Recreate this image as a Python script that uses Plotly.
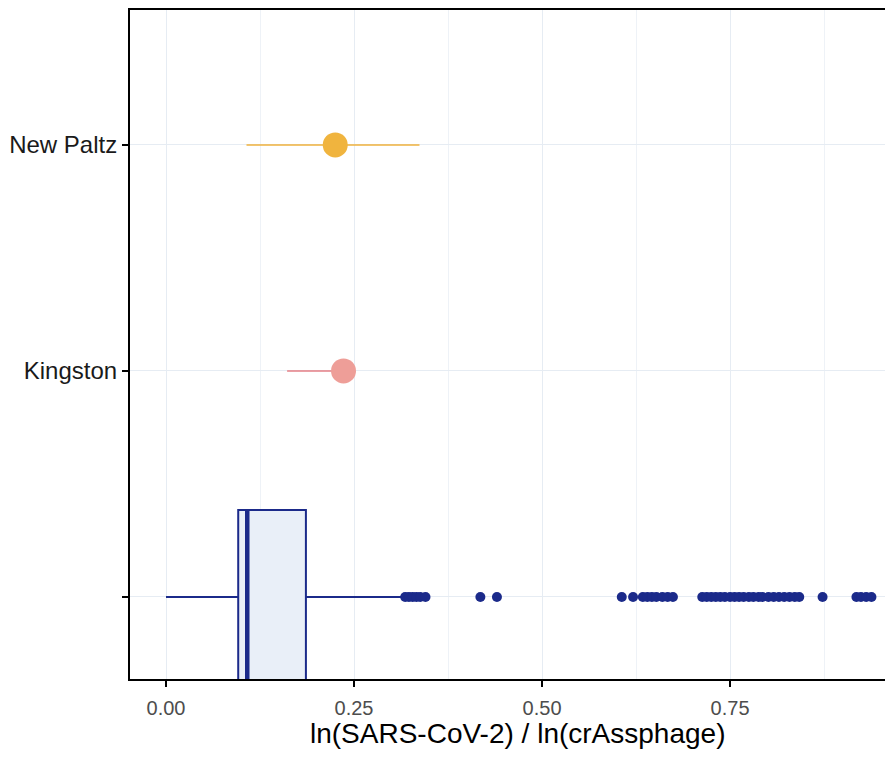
import plotly.graph_objects as go

# ---- data ----
site_labels = ["", "Kingston", "New Paltz"]
site_pos = [1, 2, 3]

# summary points with intervals
np_est, np_lo, np_hi = 0.225, 0.107, 0.337
kg_est, kg_lo, kg_hi = 0.236, 0.161, 0.249

# reference distribution (box plot stats)
box_q1 = 0.096
box_median = 0.108
box_q3 = 0.186
box_lower = 0.0
box_upper = 0.315
outliers = [0.318, 0.323, 0.328, 0.333, 0.338, 0.345, 0.418, 0.440,
            0.606, 0.621, 0.634, 0.640, 0.646, 0.652, 0.660, 0.667, 0.674,
            0.713, 0.719, 0.725, 0.731, 0.737, 0.743, 0.750, 0.756, 0.762,
            0.768, 0.775, 0.781, 0.788, 0.793, 0.801, 0.808, 0.815, 0.822,
            0.829, 0.836, 0.842, 0.873, 0.918, 0.924, 0.931, 0.938]

navy = "#1b2a8a"
box_width = 0.77

fig = go.Figure()

fig.add_trace(go.Box(
    y=[site_pos[0]], q1=[box_q1], median=[box_median], q3=[box_q3],
    lowerfence=[box_lower], upperfence=[box_upper],
    orientation="h", width=box_width, boxpoints=False, whiskerwidth=0,
    line=dict(color=navy, width=2), fillcolor="#e9eff8", showlegend=False,
))
# thick median line
fig.add_trace(go.Scatter(
    x=[box_median, box_median],
    y=[site_pos[0] - box_width / 2, site_pos[0] + box_width / 2],
    mode="lines", line=dict(color=navy, width=4.5), showlegend=False,
))
fig.add_trace(go.Scatter(
    x=outliers, y=[site_pos[0]] * len(outliers), mode="markers",
    marker=dict(color=navy, size=10), showlegend=False,
))

# Kingston
fig.add_trace(go.Scatter(
    x=[kg_est], y=[site_pos[1]], mode="markers",
    marker=dict(color="#ee9e98", size=25),
    error_x=dict(type="data", symmetric=False, array=[kg_hi - kg_est],
                 arrayminus=[kg_est - kg_lo], width=0, thickness=1.6,
                 color="#e57f86"),
    showlegend=False,
))
# New Paltz
fig.add_trace(go.Scatter(
    x=[np_est], y=[site_pos[2]], mode="markers",
    marker=dict(color="#f0b43e", size=25),
    error_x=dict(type="data", symmetric=False, array=[np_hi - np_est],
                 arrayminus=[np_est - np_lo], width=0, thickness=1.6,
                 color="#efb23e"),
    showlegend=False,
))

grid_c = "#e6ecf3"
fig.update_xaxes(
    range=[-0.0479, 0.956], tickvals=[0, 0.25, 0.5, 0.75],
    ticktext=["0.00", "0.25", "0.50", "0.75"],
    showgrid=True, gridcolor=grid_c, gridwidth=1,
    minor=dict(dtick=0.125, tick0=0.125, showgrid=True, gridcolor="#eef2f7", gridwidth=1),
    showline=True, linecolor="black", linewidth=2, mirror=True,
    ticks="outside", ticklen=6, tickcolor="black", tickwidth=1.5,
    ticklabelstandoff=4,
    tickfont=dict(family="Liberation Sans, Arial", size=20, color="#4d4d4d"),
    zeroline=False,
)
fig.update_yaxes(
    range=[0.637, 3.597], tickvals=site_pos, ticktext=site_labels,
    showgrid=True, gridcolor=grid_c, gridwidth=1,
    showline=True, linecolor="black", linewidth=2, mirror=False,
    ticks="outside", ticklen=6, tickcolor="black", tickwidth=1.5,
    tickfont=dict(family="Liberation Sans, Arial", size=24, color="#1a1a1a"),
    zeroline=False,
)

fig.add_annotation(
    text="ln(SARS-CoV-2) / ln(crAssphage)", xref="paper", yref="paper",
    x=0.5126, y=-0.081, xanchor="center", yanchor="middle",
    showarrow=False,
    font=dict(family="Liberation Sans, Arial", size=28, color="black"),
)

fig.update_layout(
    width=877, height=741,
    margin=dict(l=122, r=0, t=2, b=70),
    plot_bgcolor="white", paper_bgcolor="white",
    showlegend=False,
)

fig.write_html("out.html")
